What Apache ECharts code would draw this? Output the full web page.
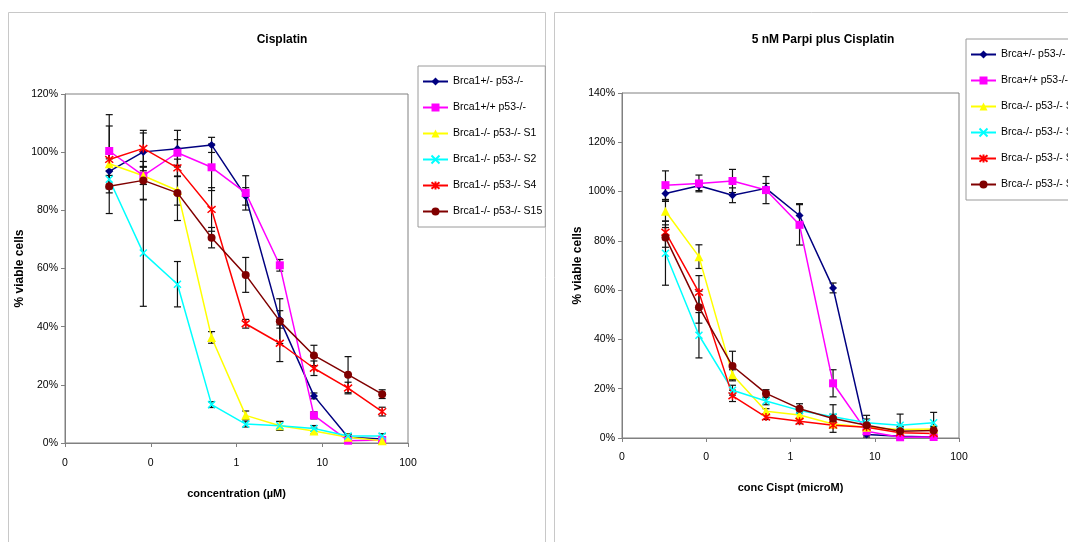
<!DOCTYPE html>
<html>
<head>
<meta charset="utf-8">
<script src="https://cdn.jsdelivr.net/npm/echarts@6/dist/echarts.min.js"></script>
<style>
html,body{margin:0;padding:0;background:#fff;}
#c{width:1068px;height:542px;}
</style>
</head>
<body>
<div id="c"></div>
<script>
// concentrations (µM), 2.5-fold dilutions
var conc = [0.0328, 0.0819, 0.2048, 0.512, 1.28, 3.2, 8, 20, 50];
var xTickLabels = {0.01: '0', 0.1: '0', 1: '1', 10: '10', 100: '100'};

// Left panel: Cisplatin
var leftNames = ['Brca1+/- p53-/-', 'Brca1+/+ p53-/-', 'Brca1-/- p53-/- S1', 'Brca1-/- p53-/- S2', 'Brca1-/- p53-/- S4', 'Brca1-/- p53-/- S15'];
var L_het  = [93.4, 100.1, 101.2, 102.5, 84.8, 42.5, 16.2, 2.0, 1.4];
var L_wt   = [100.4, 91.9, 99.8, 94.8, 86.0, 61.1, 9.5, 0.8, 1.0];
var L_S1   = [96.0, 91.9, 86.8, 36.3, 9.5, 5.9, 4.1, 2.0, 0.8];
var L_S2   = [90.7, 65.3, 54.6, 13.2, 6.5, 5.9, 5.0, 2.4, 2.4];
var L_S4   = [97.5, 101.3, 94.6, 80.3, 41.0, 34.3, 25.7, 18.9, 10.8];
var L_S15  = [88.3, 90.3, 86.0, 70.6, 57.8, 41.9, 30.1, 23.5, 16.8];
var L_het_err = [6, 6.5, 6.3, 2.6, 3, 3, 1, 0.8, 0.8];
var L_wt_err  = [12.5, 3, 4.5, 8, 5.9, 2, 1.2, 0.5, 0.5];
var L_S1_err  = [4, 3, 5, 2, 1.5, 1.5, 1, 0.8, 0.5];
var L_S2_err  = [3, 18.3, 7.8, 1, 1, 1.5, 1, 0.8, 0.8];
var L_S4_err  = [11.5, 6.2, 3, 7.5, 1.5, 6.3, 2.5, 2, 1.5];
var L_S15_err = [9.4, 6.5, 9.5, 3.5, 6, 7.7, 3.5, 6.2, 1.5];

// Right panel: 5 nM Parpi plus Cisplatin
var rightNames = ['Brca+/- p53-/-', 'Brca+/+ p53-/-', 'Brca-/- p53-/- S1', 'Brca-/- p53-/- S2', 'Brca-/- p53-/- S4', 'Brca-/- p53-/- S15'];
var R_het  = [99.2, 102.4, 98.5, 101.3, 90.3, 60.9, 1.4, 0.7, 0.4];
var R_wt   = [102.6, 103.3, 104.3, 100.6, 86.5, 22.2, 2.7, 0.3, 0.4];
var R_S1   = [92.0, 73.6, 25.7, 10.9, 9.3, 5.7, 4.4, 3.4, 3.7];
var R_S2   = [75.0, 41.7, 19.4, 15.0, 11.2, 8.6, 6.2, 5.2, 6.2];
var R_S4   = [83.5, 59.1, 17.1, 8.5, 6.8, 5.2, 4.4, 2.1, 1.8];
var R_S15  = [81.4, 53.1, 29.2, 18.1, 11.9, 7.9, 5.2, 2.7, 3.0];
var R_het_err = [3, 2, 3, 2, 4.8, 2, 1, 0.5, 0.5];
var R_wt_err  = [5.8, 3.4, 4.7, 5.5, 8.2, 5.5, 1, 0.5, 0.5];
var R_S1_err  = [4, 4.8, 2, 1, 1, 1, 1, 1, 1];
var R_S2_err  = [13, 9.2, 2, 1.5, 1, 1, 1.5, 4.5, 4.2];
var R_S4_err  = [3, 6.8, 2.3, 1, 1, 1, 1, 1, 1];
var R_S15_err = [4, 6.5, 6, 1.5, 2, 5.6, 4, 2, 1.5];

var colors = ['#000080', '#FF00FF', '#FFFF00', '#00FFFF', '#FF0000', '#800000'];
var symbols = ['diamond', 'rect', 'triangle',
  'path://M0,0L10,10M10,0L0,10',
  'path://M0,0L10,10M10,0L0,10M5,-1L5,11',
  'circle'];
var symbolSizes = [8, 8, 9, 7, 8, 8];

var FONT = '"Liberation Sans", Arial, sans-serif';

function makeLines(names, vals, gridIdx) {
  return vals.map(function (v, k) {
    var stroke = (k === 3 || k === 4);
    return {
      name: names[k], type: 'line', xAxisIndex: gridIdx, yAxisIndex: gridIdx,
      data: conc.map(function (c, i) { return [c, v[i]]; }),
      symbol: symbols[k], symbolSize: symbolSizes[k], showSymbol: true,
      lineStyle: { color: colors[k], width: 1.5 },
      itemStyle: { color: colors[k], borderColor: colors[k], borderWidth: stroke ? 1.5 : 0 },
      z: 3, animation: false, clip: false
    };
  });
}
function errItem(params, api) {
  var x = api.value(0), lo = api.value(1), hi = api.value(2);
  var p1 = api.coord([x, lo]), p2 = api.coord([x, hi]);
  var w = 3.5, st = { stroke: '#111', lineWidth: 1.2 };
  return { type: 'group', children: [
    { type: 'line', shape: { x1: p1[0], y1: p1[1], x2: p2[0], y2: p2[1] }, style: st },
    { type: 'line', shape: { x1: p1[0] - w, y1: p1[1], x2: p1[0] + w, y2: p1[1] }, style: st },
    { type: 'line', shape: { x1: p2[0] - w, y1: p2[1], x2: p2[0] + w, y2: p2[1] }, style: st }
  ]};
}
function makeErr(vals, errs, gridIdx) {
  var data = [];
  vals.forEach(function (v, k) {
    conc.forEach(function (c, i) { data.push([c, v[i] - errs[k][i], v[i] + errs[k][i]]); });
  });
  return { type: 'custom', xAxisIndex: gridIdx, yAxisIndex: gridIdx, renderItem: errItem,
    encode: { x: 0, y: [1, 2] }, data: data, z: 2, animation: false, clip: false, silent: true };
}

function xAxis(gridIdx, name, gap, margin) {
  return { type: 'log', logBase: 10, min: 0.01, max: 100, gridIndex: gridIdx,
    name: name, nameLocation: 'middle', nameGap: gap,
    nameTextStyle: { fontFamily: FONT, fontSize: 11, fontWeight: 'bold', color: '#000' },
    axisLine: { lineStyle: { color: '#808080', width: 1 } },
    axisTick: { show: true, length: 4, lineStyle: { color: '#808080' } },
    minorTick: { show: false }, splitLine: { show: false },
    axisLabel: { fontFamily: FONT, fontSize: 10.5, color: '#000', margin: margin,
      formatter: function (v) { var r = Math.round(v * 1000) / 1000; return xTickLabels[r] !== undefined ? xTickLabels[r] : String(Math.round(v)); } }
  };
}
function yAxis(gridIdx, max, gap) {
  return { type: 'value', min: 0, max: max, interval: 20, gridIndex: gridIdx,
    name: '% viable cells', nameLocation: 'middle', nameGap: gap, nameRotate: 90,
    nameTextStyle: { fontFamily: FONT, fontSize: 12, fontWeight: 'bold', color: '#000' },
    axisLine: { show: true, lineStyle: { color: '#808080', width: 1 } },
    axisTick: { show: true, length: 4, lineStyle: { color: '#808080' } },
    splitLine: { show: false },
    axisLabel: { fontFamily: FONT, fontSize: 10.5, color: '#000', margin: 7, formatter: '{value}%' }
  };
}
function legend(names, left, top) {
  return { data: names, orient: 'vertical', left: left, top: top,
    itemWidth: 25, itemHeight: 10, itemGap: 15, padding: [10, 3, 10, 4],
    borderColor: '#9a9a9a', borderWidth: 1, backgroundColor: '#fff',
    textStyle: { fontFamily: FONT, fontSize: 10.5, color: '#000' }, selectedMode: false };
}

var chart = echarts.init(document.getElementById('c'), null, { renderer: 'canvas' });
var series = []
  .concat(makeLines(leftNames, [L_het, L_wt, L_S1, L_S2, L_S4, L_S15], 0))
  .concat(makeLines(rightNames, [R_het, R_wt, R_S1, R_S2, R_S4, R_S15], 1))
  .concat([makeErr([L_het, L_wt, L_S1, L_S2, L_S4, L_S15], [L_het_err, L_wt_err, L_S1_err, L_S2_err, L_S4_err, L_S15_err], 0)])
  .concat([makeErr([R_het, R_wt, R_S1, R_S2, R_S4, R_S15], [R_het_err, R_wt_err, R_S1_err, R_S2_err, R_S4_err, R_S15_err], 1)]);

chart.setOption({
  animation: false,
  backgroundColor: '#fff',
  graphic: [
    { type: 'rect', shape: { x: 8.5, y: 12.5, width: 537, height: 545 }, style: { fill: 'none', stroke: '#c8c8c8', lineWidth: 1 }, z: -10 },
    { type: 'rect', shape: { x: 554.5, y: 12.5, width: 530, height: 545 }, style: { fill: 'none', stroke: '#c8c8c8', lineWidth: 1 }, z: -10 }
  ],
  title: [
    { text: 'Cisplatin', left: 277, top: 29, textAlign: 'center',
      textStyle: { fontFamily: FONT, fontSize: 12, fontWeight: 'bold', color: '#000' } },
    { text: '5 nM Parpi plus Cisplatin', left: 818, top: 29, textAlign: 'center',
      textStyle: { fontFamily: FONT, fontSize: 12, fontWeight: 'bold', color: '#000' } }
  ],
  legend: [legend(leftNames, 418, 66), legend(rightNames, 966, 39)],
  grid: [
    { left: 65, top: 94, width: 343, height: 349, show: true, borderColor: '#808080', borderWidth: 1, backgroundColor: '#fff' },
    { left: 622, top: 93, width: 337, height: 345, show: true, borderColor: '#808080', borderWidth: 1, backgroundColor: '#fff' }
  ],
  xAxis: [xAxis(0, 'concentration (\u00b5M)', 45, 15), xAxis(1, 'conc Cispt (microM)', 44, 14)],
  yAxis: [yAxis(0, 120, 39), yAxis(1, 140, 38)],
  series: series
});
</script>
</body>
</html>
